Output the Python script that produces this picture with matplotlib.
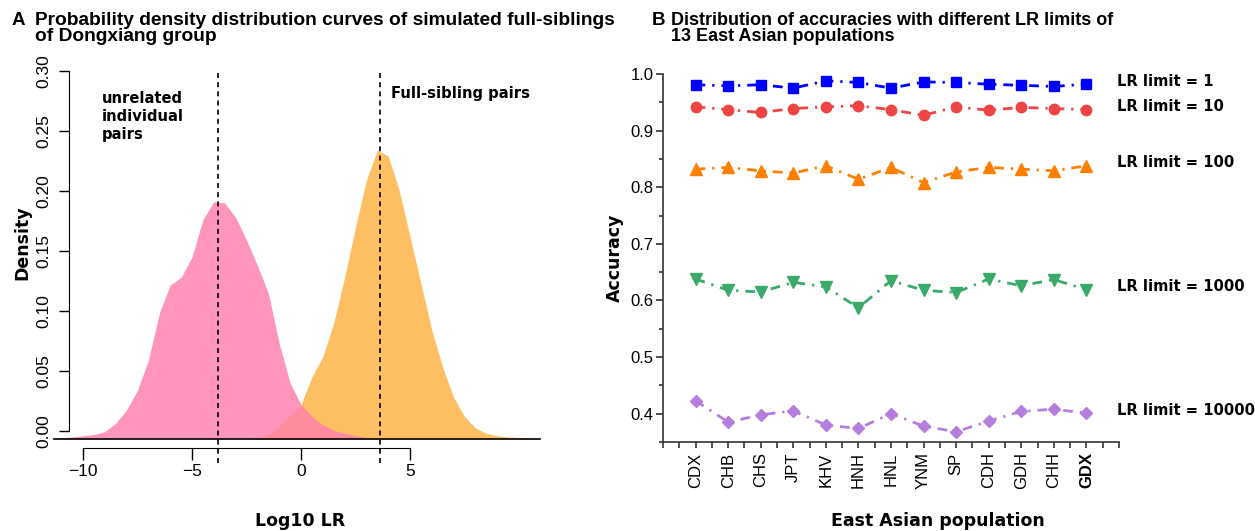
import numpy as np
import matplotlib
matplotlib.use("Agg")
import matplotlib.pyplot as plt
from matplotlib.ticker import MultipleLocator, FixedLocator

plt.rcParams['font.family'] = ['Liberation Sans', 'DejaVu Sans']

# ---- panel A: density curves (Log10 LR grid) ----
log_lr = np.arange(-11.5, 11.01, 0.5)
unrelated_density = [
    -0.0065, -0.0056, -0.005, -0.004, -0.003, -0.0006, 0.0065, 0.0175,
    0.034, 0.059, 0.098, 0.1217, 0.128, 0.145, 0.176, 0.191,
    0.190, 0.178, 0.159, 0.138, 0.115, 0.073, 0.040, 0.0217,
    0.012, 0.005, 0.0005, -0.002, -0.004, -0.0055, -0.0065, -0.0065,
    -0.0065, -0.0065, -0.0065, -0.0065, -0.0065, -0.0065, -0.0065, -0.0065,
    -0.0065, -0.0065, -0.0065, -0.0065, -0.0065, -0.0065,
]
fullsib_density = [
    -0.0065, -0.0065, -0.0065, -0.0065, -0.0065, -0.0065, -0.0065, -0.0065,
    -0.0065, -0.0065, -0.0065, -0.0065, -0.0065, -0.0065, -0.0065, -0.0065,
    -0.0065, -0.0065, -0.0065, -0.0065, -0.003, 0.004, 0.013, 0.022,
    0.045, 0.062, 0.090, 0.128, 0.170, 0.209, 0.234, 0.229,
    0.201, 0.162, 0.123, 0.084, 0.053, 0.028, 0.012, 0.0025,
    -0.002, -0.004, -0.005, -0.0055, -0.006, -0.0065,
]
unrelated_center = -3.8
fullsib_center = 3.62
baseline = -0.0065

# ---- panel B: accuracies per population ----
populations = ['CDX', 'CHB', 'CHS', 'JPT', 'KHV', 'HNH', 'HNL', 'YNM', 'SP',
               'CDH', 'GDH', 'CHH', 'GDX']
acc_lr1 = [0.981, 0.979, 0.981, 0.975, 0.988, 0.985, 0.975, 0.986, 0.985,
           0.982, 0.980, 0.978, 0.982]
acc_lr10 = [0.942, 0.937, 0.932, 0.939, 0.942, 0.944, 0.937, 0.927, 0.942,
            0.936, 0.941, 0.939, 0.937]
acc_lr100 = [0.832, 0.835, 0.829, 0.825, 0.838, 0.814, 0.835, 0.808, 0.827,
             0.835, 0.832, 0.829, 0.838]
acc_lr1000 = [0.638, 0.618, 0.615, 0.632, 0.624, 0.587, 0.635, 0.618, 0.614,
              0.638, 0.626, 0.637, 0.619]
acc_lr10000 = [0.423, 0.385, 0.398, 0.405, 0.380, 0.374, 0.400, 0.378, 0.368,
               0.387, 0.404, 0.408, 0.401]
series_labels = ['LR limit = 1', 'LR limit = 10', 'LR limit = 100',
                 'LR limit = 1000', 'LR limit = 10000']

fig = plt.figure(figsize=(12.55, 5.31), dpi=100)
W, H = 1255, 531

# ================= panel A =================
ax1 = fig.add_axes([39.4 / W, 83 / H, 501.4 / W, 377 / H])
ax1.set_xlim(-12, 11)
ax1.set_ylim(-0.0142, 0.30)

x = log_lr
pink = np.array(unrelated_density)
orange = np.array(fullsib_density)
ax1.fill_between(x, baseline, orange, color='#FDBF62', lw=0, clip_on=False)
ax1.fill_between(x, baseline, pink, color='#FF94BC', lw=0, clip_on=False)
ax1.fill_between(x, baseline, np.minimum(pink, orange), color='#FF8C9E', lw=0,
                 clip_on=False)
ax1.plot([-11.35, 10.95], [baseline, baseline], color='black', lw=1.2,
         clip_on=False)

for c in (unrelated_center, fullsib_center):
    ax1.plot([c, c], [-0.027, 0.298], color='black', lw=1.2,
             linestyle=(0, (3, 2.5)), clip_on=False)

ax1.text(-9.15, 0.283, 'unrelated\nindividual\npairs', family='DejaVu Sans',
         fontweight='bold', fontsize=10.6, va='top', ha='left',
         linespacing=1.25)
ax1.text(4.15, 0.281, 'Full-sibling pairs', family='DejaVu Sans',
         fontweight='bold', fontsize=10.6, va='center', ha='left')

for s in ('top', 'right'):
    ax1.spines[s].set_visible(False)
ax1.spines['left'].set_position(('data', -10.64))
ax1.spines['left'].set_bounds(0, 0.30)
ax1.spines['bottom'].set_bounds(-10, 5)
ax1.set_xticks([-10, -5, 0, 5])
ax1.set_yticks([0, 0.05, 0.10, 0.15, 0.20, 0.25, 0.30])
ax1.set_yticklabels(['0.00', '0.05', '0.10', '0.15', '0.20', '0.25', '0.30'],
                    rotation=90, va='center')
ax1.tick_params(axis='y', length=7, width=1, pad=6, labelsize=12.5)
ax1.tick_params(axis='x', length=8.5, width=1, pad=3, labelsize=12.5)

fig.text(22 / W, 1 - 243 / H, 'Density', rotation=90, family='DejaVu Sans',
         fontweight='bold', fontsize=12.5, ha='center', va='center')
fig.text(300 / W, 1 - 521 / H, 'Log10 LR', family='DejaVu Sans',
         fontweight='bold', fontsize=12.5, ha='center', va='center')

# ================= panel B =================
ax2 = fig.add_axes([663 / W, 89 / H, 456 / W, 368 / H])
ax2.set_xlim(0, 14)
ax2.set_ylim(0.35, 1.0)
pos = np.arange(1, len(populations) + 1)

styles = [
    (acc_lr1, '#0000FF', 's', 6.5),
    (acc_lr10, '#EE4444', 'o', 7.5),
    (acc_lr100, '#FF8000', '^', 8),
    (acc_lr1000, '#3AAA6A', 'v', 8),
    (acc_lr10000, '#B57EDC', 'D', 6.5),
]
for (vals, col, mk, ms), lab in zip(styles, series_labels):
    ax2.plot(pos, vals, color=col, marker=mk, markersize=ms, lw=2,
             linestyle=(0, (3.5, 2.5, 0.8, 2.5)), clip_on=False)
    ax2.text(13.95, vals[-1] + 0.005, lab, family='DejaVu Sans',
             fontweight='bold', fontsize=10.6, ha='left', va='center')

for s in ('top', 'right'):
    ax2.spines[s].set_visible(False)
for s in ('left', 'bottom'):
    ax2.spines[s].set_color('#333333')
    ax2.spines[s].set_linewidth(1.2)
ax2.yaxis.set_major_locator(FixedLocator([0.4, 0.5, 0.6, 0.7, 0.8, 0.9, 1.0]))
ax2.yaxis.set_minor_locator(FixedLocator([0.35, 0.45, 0.55, 0.65, 0.75, 0.85, 0.95]))
ax2.set_yticklabels(['0.4', '0.5', '0.6', '0.7', '0.8', '0.9', '1.0'])
ax2.xaxis.set_major_locator(FixedLocator(pos))
ax2.xaxis.set_minor_locator(MultipleLocator(0.5))
ax2.set_xticklabels(populations, rotation=90)
ax2.get_xticklabels()[-1].set_fontweight('bold')
ax2.tick_params(axis='y', which='major', length=5, width=1.2, pad=2,
                labelsize=12, color='#333333')
ax2.tick_params(axis='y', which='minor', length=3, width=1.2, color='#333333')
ax2.tick_params(axis='x', which='both', length=4.5, width=1.2, pad=3,
                labelsize=12, color='#333333')

fig.text(615 / W, 1 - 258 / H, 'Accuracy', rotation=90, family='DejaVu Sans',
         fontweight='bold', fontsize=12.5, ha='center', va='center')
fig.text(938 / W, 1 - 521 / H, 'East Asian population', family='DejaVu Sans',
         fontweight='bold', fontsize=12.5, ha='center', va='center')

# ================= titles =================
fig.text(12 / W, 1 - 12 / H, 'A', fontweight='bold', fontsize=13.5, va='top')
fig.text(35 / W, 1 - 12 / H,
         'Probability density distribution curves of simulated full-siblings\n'
         'of Dongxiang group', fontweight='bold', fontsize=13.8, va='top',
         linespacing=0.9)
fig.text(652 / W, 1 - 12 / H, 'B', fontweight='bold', fontsize=13.5, va='top')
fig.text(671 / W, 1 - 12 / H,
         'Distribution of accuracies with different LR limits of\n'
         '13 East Asian populations', fontweight='bold', fontsize=13.0, va='top',
         linespacing=0.92)

fig.savefig('out.png', dpi=100)
